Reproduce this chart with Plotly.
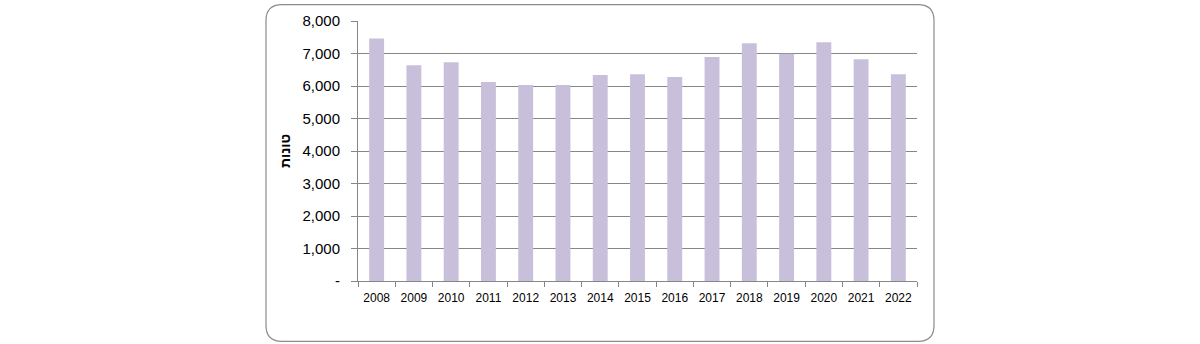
import plotly.graph_objects as go

years = ["2008", "2009", "2010", "2011", "2012", "2013", "2014", "2015",
         "2016", "2017", "2018", "2019", "2020", "2021", "2022"]
tons = [7460, 6640, 6730, 6120, 6030, 6030, 6335, 6365,
        6275, 6890, 7315, 6990, 7345, 6825, 6365]
y_ticks = [0, 1000, 2000, 3000, 4000, 5000, 6000, 7000, 8000]
y_tick_text = ["-", "1,000", "2,000", "3,000", "4,000", "5,000", "6,000", "7,000", "8,000"]

W, H = 1200, 344
L, R, T, B = 358, 917, 18, 281

fig = go.Figure(go.Bar(x=years, y=tons, marker=dict(color="#C8C0DA", line=dict(width=0)),
                       width=0.4))

# rounded border in paper coordinates
pw, ph = R - L, B - T
def px(x): return (x - L) / pw
def py(y): return (B - y) / ph
x0, x1, y0, y1, r = 266, 934, 1.5, 342, 16
path = (f"M {px(x0 + r)} {py(y0)} L {px(x1 - r)} {py(y0)} "
        f"Q {px(x1)} {py(y0)} {px(x1)} {py(y0 + r)} "
        f"L {px(x1)} {py(y1 - r)} Q {px(x1)} {py(y1)} {px(x1 - r)} {py(y1)} "
        f"L {px(x0 + r)} {py(y1)} Q {px(x0)} {py(y1)} {px(x0)} {py(y1 - r)} "
        f"L {px(x0)} {py(y0 + r)} Q {px(x0)} {py(y0)} {px(x0 + r)} {py(y0)} Z")
fig.add_shape(type="path", path=path, xref="paper", yref="paper",
              line=dict(color="#8C8C8C", width=1.2), layer="below")

fig.update_layout(
    width=W, height=H,
    margin=dict(l=L, r=W - R, t=T, b=H - B),
    plot_bgcolor="white", paper_bgcolor="white",
    showlegend=False,
    font=dict(family="Liberation Sans, Arial", color="#000000"),
    xaxis=dict(showgrid=False, showline=True, linecolor="#868686", linewidth=1,
               ticks="outside", tickson="boundaries", ticklen=5, tickcolor="#868686",
               tickfont=dict(size=12), zeroline=False, ticklabelstandoff=6),
    yaxis=dict(range=[0, 8000], tickvals=y_ticks, ticktext=y_tick_text,
               showgrid=True, gridcolor="#868686", gridwidth=1,
               showline=True, linecolor="#868686", linewidth=1,
               ticks="outside", ticklen=6, tickcolor="#868686",
               tickfont=dict(size=15), zeroline=False, ticklabelstandoff=8,
               title=dict(text="<b>טונות</b>", font=dict(size=14), standoff=8)),
)

fig.write_html("out.html")
